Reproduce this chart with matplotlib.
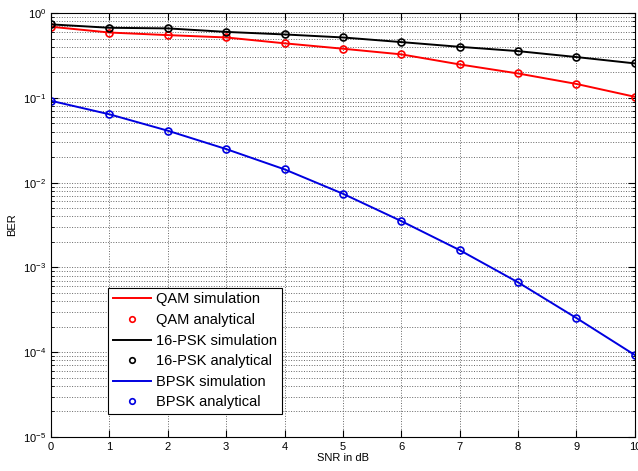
import matplotlib.pyplot as plt
from matplotlib.ticker import LogLocator, NullFormatter

plt.rcParams['font.family'] = ['Liberation Sans', 'DejaVu Sans']

snr_db = [0, 1, 2, 3, 4, 5, 6, 7, 8, 9, 10]

# BER values
qam_ber = [0.69, 0.59, 0.55, 0.516, 0.44, 0.38, 0.326, 0.248, 0.194, 0.146, 0.103]
psk16_ber = [0.736, 0.671, 0.66, 0.60, 0.56, 0.516, 0.455, 0.40, 0.356, 0.303, 0.255]
bpsk_ber = [0.0924, 0.064, 0.041, 0.0249, 0.01435, 0.0074, 0.00352, 0.0016,
            0.000667, 0.000253, 0.0000927]

fig = plt.figure(figsize=(6.38, 4.71), dpi=100)
ax = fig.add_axes([0.080, 0.0722, 0.915, 0.9])

ax.semilogy(snr_db, qam_ber, color="r", lw=1.4, label="QAM simulation")
ax.semilogy(snr_db, qam_ber, "o", mfc="none", mec="r", ms=5, mew=1.2, label="QAM analytical")
ax.semilogy(snr_db, psk16_ber, color="k", lw=1.4, label="16-PSK simulation")
ax.semilogy(snr_db, psk16_ber, "o", mfc="none", mec="k", ms=5, mew=1.2, label="16-PSK analytical")
ax.semilogy(snr_db, bpsk_ber, color="#0000e0", lw=1.4, label="BPSK simulation")
ax.semilogy(snr_db, bpsk_ber, "o", mfc="none", mec="#0000e0", ms=5, mew=1.2, label="BPSK analytical")

ax.set_xlim(0, 10)
ax.set_ylim(1e-5, 1)
ax.set_xticks(range(0, 11))
ax.yaxis.set_major_locator(LogLocator(base=10, numticks=10))
ax.yaxis.set_minor_locator(LogLocator(base=10, subs=range(2, 10), numticks=10))
ax.yaxis.set_minor_formatter(NullFormatter())

ax.grid(True, which="major", linestyle=":", color="0.4", lw=0.7)
ax.grid(True, which="minor", axis="y", linestyle=":", color="0.4", lw=0.7)
ax.tick_params(which="both", direction="in", top=True, right=True, labelsize=8)
ax.tick_params(which="major", length=5)
ax.tick_params(which="minor", length=2.5)

ax.set_xlabel("SNR in dB", fontsize=8, labelpad=1)
ax.set_ylabel("BER", fontsize=8, labelpad=4)

leg = ax.legend(loc="lower left", bbox_to_anchor=(0.098, 0.055), fontsize=10.5,
                fancybox=False, framealpha=1, edgecolor="k", borderpad=0.3,
                labelspacing=0.45, handlelength=2.6, handletextpad=0.4,
                borderaxespad=0, markerscale=0.8)
leg.get_frame().set_linewidth(0.8)

fig.savefig("out.png", dpi=100)
